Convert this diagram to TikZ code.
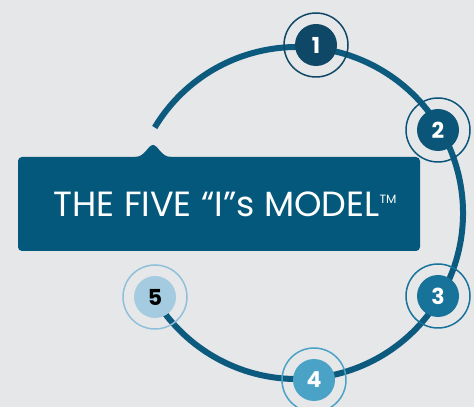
\documentclass[tikz,border=0pt]{standalone}
\usepackage{fontspec}
\setmainfont{Poppins}
\usepackage{tikz}
\usetikzlibrary{positioning}

\definecolor{bgcol}{HTML}{E6E7E9}
\definecolor{arccol}{HTML}{0C5A7E}
\definecolor{boxcol}{HTML}{04587B}
\definecolor{onecol}{HTML}{0F4766}
\definecolor{twocol}{HTML}{0B5579}
\definecolor{threecol}{HTML}{17739A}
\definecolor{fourcol}{HTML}{4AA3C6}
\definecolor{fivecol}{HTML}{A5CBE0}
\definecolor{fivering}{HTML}{8FC0DA}

\begin{document}
\begin{tikzpicture}[x=1pt, y=1pt,
  num/.style={circle, minimum size=42pt, inner sep=0pt, text=white,
    font=\fontsize{22}{22}\selectfont\bfseries},
  ring/.style={line width=1.5pt},
  titlebox/.style={fill=boxcol, rounded corners=4pt, minimum width=402pt,
    minimum height=94pt, text=white, font=\fontsize{35}{35}\selectfont}]
\useasboundingbox (0,0) rectangle (474,407);
\fill[bgcol] (0,0) rectangle (474,407);

% the cycle
\coordinate (c) at (297,194);
\draw[arccol, line width=6pt] (c) ++(149:166) arc[start angle=149, end angle=-150, radius=166];

% steps
\node[num, fill=onecol] at (316,362) (n1) {1};
\node[num, fill=twocol] at (438,277) (n2) {2};
\node[num, fill=threecol] at (438,111) (n3) {3};
\node[num, fill=fourcol] at (314,27) (n4) {4};
\node[num, fill=fivecol, text=black] at (155,110) (n5) {5};
\draw[ring, onecol] (n1.center) circle[radius=32];
\draw[ring, twocol] (n2.center) circle[radius=32];
\draw[ring, threecol] (n3.center) circle[radius=32];
\draw[ring, fourcol] (n4.center) circle[radius=32];
\draw[ring, fivering] (n5.center) circle[radius=32];

% title with pointer
\node[titlebox] at (219,203) (title) {\hspace{12pt}THE FIVE “I”s MODEL\raisebox{13pt}{\fontsize{12}{12}\selectfont TM}};
\coordinate (tip) at (153,262);
\fill[boxcol] (135,250) .. controls (145,250) and (148,262) .. (tip)
  .. controls (158,262) and (161,250) .. (171,250) -- cycle;
\end{tikzpicture}
\end{document}
